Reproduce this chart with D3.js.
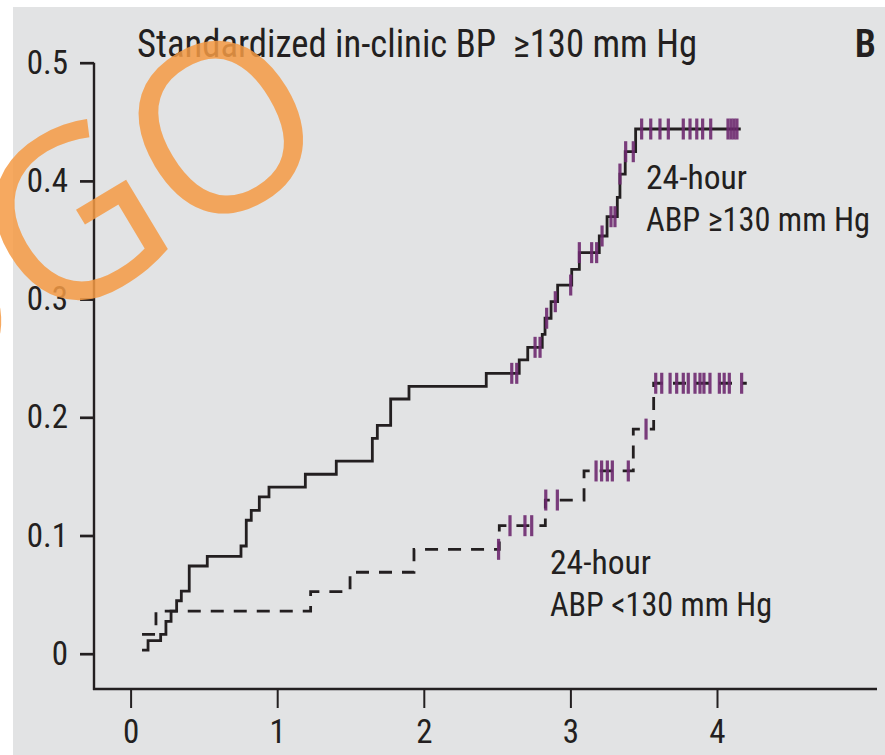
<!DOCTYPE html>
<html>
<head>
<meta charset="utf-8">
<script src="https://cdn.jsdelivr.net/npm/d3@7"></script>
<style>
  body { margin: 0; background: #fff; }
  text { font-family: 'Liberation Sans Narrow', 'Roboto Condensed', 'Liberation Sans', sans-serif; fill: #231f20; white-space: pre; }
</style>
</head>
<body>
<div class="chart"></div>
<script>
// step curve, 24-hour ABP >= 130 (time in years, cumulative incidence)
const highTimes = [0.078, 0.119, 0.205, 0.241, 0.276, 0.314, 0.346, 0.400, 0.523, 0.753, 0.789, 0.823, 0.878, 0.944,
    1.192, 1.403, 1.649, 1.683, 1.774, 1.899, 2.426, 2.651, 2.709, 2.808, 2.827, 2.868, 2.913, 3.009, 3.061,
    3.197, 3.250, 3.320, 3.338, 3.374, 3.445, 4.162];
const highValues = [0.003, 0.011, 0.0164, 0.0274, 0.0361, 0.0448, 0.053, 0.0742, 0.0824, 0.0911, 0.1129, 0.1213, 0.1326, 0.141,
    0.1518, 0.163, 0.1822, 0.1932, 0.2155, 0.2262, 0.2372, 0.2485, 0.2592, 0.2702, 0.2838, 0.2978, 0.3119, 0.3252, 0.3393,
    0.3534, 0.3697, 0.3861, 0.4058, 0.4247, 0.4439, 0.4439];
const highCensored = [2.600, 2.634, 2.759, 2.793, 2.838, 2.897, 3.002, 3.061, 3.145, 3.179, 3.216, 3.277, 3.304, 3.338,
    3.377, 3.429, 3.486, 3.548, 3.611, 3.668, 3.770, 3.816, 3.862, 3.902, 3.957, 4.075, 4.096, 4.116, 4.136];

// step curve, 24-hour ABP < 130
const lowTimes = [0.078, 0.173, 1.228, 1.497, 1.933, 2.515, 2.829, 3.093, 3.429, 3.568, 4.203];
const lowValues = [0.0164, 0.0361, 0.0525, 0.0689, 0.0883, 0.1083, 0.130, 0.1546, 0.190, 0.2288, 0.2288];
const lowCensored = [2.510, 2.588, 2.690, 2.736, 2.832, 2.911, 3.175, 3.213, 3.252, 3.286, 3.395, 3.516, 3.582, 3.623,
    3.680, 3.725, 3.770, 3.804, 3.850, 3.884, 3.911, 3.952, 4.016, 4.049, 4.084, 4.168];

const xTicks = [0, 1, 2, 3, 4];
const yTicks = [0, 0.1, 0.2, 0.3, 0.4, 0.5];
const yTickLabels = ['0', '0.1', '0.2', '0.3', '0.4', '0.5'];

const title = 'Standardized in-clinic BP  \u2265130 mm Hg';
const panelLetter = 'B';
const highLabel = ['24-hour', 'ABP \u2265130 mm Hg'];
const lowLabel = ['24-hour', 'ABP <130 mm Hg'];

const width = 885, height = 755;
const ink = '#231f20';
const censorColor = '#6e2a70';

const svg = d3.select('.chart')
    .append('svg')
    .attr('width', width)
    .attr('height', height);

svg.append('rect')
    .attr('x', 13)
    .attr('y', 7)
    .attr('width', width - 13)
    .attr('height', height - 7)
    .attr('fill', '#e2e3e4');

const x = d3.scaleLinear()
    .domain([0, 4])
    .range([130.6, 717]);

const y = d3.scaleLinear()
    .domain([0, 0.5])
    .range([653.7, 62.7]);

const xAxisY = 689, yAxisX = 94;

// axis lines
svg.append('line')
    .attr('x1', yAxisX).attr('x2', yAxisX)
    .attr('y1', y(0.5)).attr('y2', xAxisY + 1)
    .attr('stroke', ink).attr('stroke-width', 2.4);

svg.append('line')
    .attr('x1', yAxisX - 1).attr('x2', 877)
    .attr('y1', xAxisY).attr('y2', xAxisY)
    .attr('stroke', ink).attr('stroke-width', 2.6);

const xAxis = svg.append('g')
    .attr('class', 'x_axis')
    .attr('transform', `translate(0, ${xAxisY})`)
    .call(d3.axisBottom(x).tickValues(xTicks).tickSize(19).tickPadding(12).tickFormat(d3.format('d')));

xAxis.select('.domain').remove();
xAxis.selectAll('line').attr('stroke', ink).attr('stroke-width', 2);
xAxis.selectAll('text')
    .attr('font-size', 33)
    .attr('dy', '0.71em')
    .attr('font-family', null);

const yAxis = svg.append('g')
    .attr('class', 'y_axis')
    .attr('transform', `translate(${yAxisX}, 0)`)
    .call(d3.axisLeft(y).tickValues(yTicks).tickSize(14).tickPadding(12)
        .tickFormat((d, i) => yTickLabels[i]));

yAxis.select('.domain').remove();
yAxis.selectAll('line').attr('stroke', ink).attr('stroke-width', 2.7);
yAxis.selectAll('text')
    .attr('font-size', 33)
    .attr('font-family', null);

svg.selectAll('.tick text').style('fill', ink);

// step curves
const stepLine = d3.line()
    .x(d => x(d[0]))
    .y(d => y(d[1]))
    .curve(d3.curveStepAfter);

const highPts = highTimes.map((t, i) => [t, highValues[i]]);
const lowPts = lowTimes.map((t, i) => [t, lowValues[i]]);

svg.append('path')
    .datum(lowPts)
    .attr('d', stepLine)
    .attr('fill', 'none')
    .attr('stroke', ink)
    .attr('stroke-width', 2.8)
    .attr('stroke-dasharray', '13,10');

svg.append('path')
    .datum(highPts)
    .attr('d', stepLine)
    .attr('fill', 'none')
    .attr('stroke', ink)
    .attr('stroke-width', 2.8);

// censor ticks sit on the curve level at that time
const levelAt = (times, values, t) => values[Math.max(0, d3.bisectRight(times, t) - 1)];

const censor = (times, values, cens) => {
    svg.append('g')
        .selectAll('line')
        .data(cens)
        .join('line')
        .attr('x1', d => x(d)).attr('x2', d => x(d))
        .attr('y1', d => y(levelAt(times, values, d)) - 10.5)
        .attr('y2', d => y(levelAt(times, values, d)) + 10.5)
        .attr('stroke', censorColor)
        .attr('stroke-width', 3.2)
        .attr('opacity', 0.9);
};

censor(highTimes, highValues, highCensored);
censor(lowTimes, lowValues, lowCensored);

// text
svg.append('text')
    .text(title)
    .attr('x', 137)
    .attr('y', 57)
    .attr('font-size', 38)
    .attr('textLength', 560)
    .attr('lengthAdjust', 'spacingAndGlyphs');

svg.append('text')
    .text(panelLetter)
    .attr('x', 876)
    .attr('y', 57)
    .attr('font-size', 38)
    .attr('font-weight', 600)
    .style('text-anchor', 'end');

const label = (lines, widths, lx, ly) => {
    svg.append('text')
        .selectAll('tspan')
        .data(lines)
        .join('tspan')
        .attr('x', lx)
        .attr('y', (d, i) => ly + i * 42)
        .attr('font-size', 34)
        .attr('textLength', (d, i) => widths[i])
        .attr('lengthAdjust', 'spacingAndGlyphs')
        .text(d => d);
};

label(highLabel, [101, 224], 646, 189);
label(lowLabel, [101, 222], 550, 574);

// watermark
svg.append('text')
    .text('LOGO')
    .attr('transform', 'translate(342,152) rotate(-31)')
    .style('text-anchor', 'end')
    .style('font-family', "'Open Sans', sans-serif")
    .style('font-weight', 400)
    .style('font-size', '234px')
    .style('fill', '#f59b45')
    .style('opacity', 0.85);
</script>
</body>
</html>
